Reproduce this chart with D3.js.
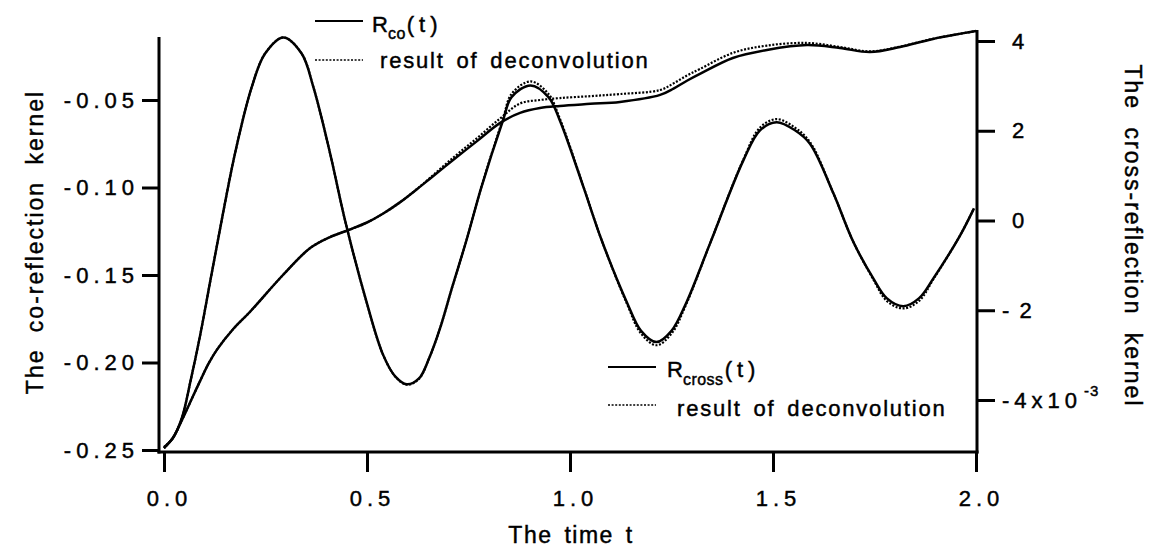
<!DOCTYPE html>
<html>
<head>
<meta charset="utf-8">
<script src="https://cdn.jsdelivr.net/npm/d3@7"></script>
<style>
  html, body { margin: 0; padding: 0; background: #fff; }
  svg { display: block; }
  text { font-family: "Liberation Sans", Arial, Helvetica, sans-serif; fill: #000; stroke: #000; stroke-width: 0.45px; }
</style>
</head>
<body>
<svg id="chart" width="1151" height="552"></svg>
<script>
// ---- data ----
const tCo = [0, 0.022, 0.044, 0.066, 0.089, 0.110, 0.131, 0.170, 0.212, 0.293, 0.360, 0.409, 0.458, 0.500, 0.539, 0.581, 0.631, 0.655, 0.712, 0.771, 0.828, 0.877, 0.926, 0.975, 1.050, 1.123, 1.222, 1.255, 1.288, 1.320, 1.401, 1.485, 1.584, 1.665, 1.739, 1.813, 1.894, 2.000];
const coExact = [-0.249, -0.243, -0.233, -0.222, -0.2105, -0.2005, -0.1925, -0.181, -0.171, -0.150, -0.1346, -0.1283, -0.1240, -0.1200, -0.1150, -0.1085, -0.0995, -0.0950, -0.0843, -0.0735, -0.0631, -0.0574, -0.0546, -0.0534, -0.0522, -0.0511, -0.0471, -0.0435, -0.0390, -0.0351, -0.0260, -0.0214, -0.0186, -0.0203, -0.0226, -0.0197, -0.0151, -0.0106];
const coDecon = [-0.249, -0.243, -0.233, -0.222, -0.2105, -0.2005, -0.1925, -0.181, -0.171, -0.150, -0.1346, -0.1283, -0.1240, -0.1200, -0.1150, -0.1085, -0.0993, -0.0945, -0.0830, -0.0718, -0.0605, -0.0520, -0.0500, -0.0489, -0.0478, -0.0466, -0.0443, -0.0405, -0.0360, -0.0323, -0.0231, -0.0189, -0.0174, -0.0197, -0.0222, -0.0195, -0.0150, -0.0106];

const tCross = [0, 0.022, 0.044, 0.066, 0.089, 0.115, 0.142, 0.175, 0.216, 0.249, 0.294, 0.339, 0.368, 0.409, 0.446, 0.499, 0.540, 0.570, 0.598, 0.628, 0.653, 0.680, 0.710, 0.745, 0.782, 0.835, 0.856, 0.903, 0.947, 0.975, 1.033, 1.078, 1.140, 1.175, 1.213, 1.250, 1.287, 1.345, 1.427, 1.468, 1.509, 1.554, 1.591, 1.649, 1.698, 1.747, 1.780, 1.821, 1.860, 1.895, 1.961, 1.995];
const crossExact = [-5.05, -4.85, -4.40, -3.55, -2.56, -1.30, 0.00, 1.50, 2.97, 3.72, 4.08, 3.72, 2.97, 1.50, 0.00, -1.82, -3.00, -3.48, -3.65, -3.52, -3.07, -2.40, -1.48, -0.44, 0.75, 2.23, 2.75, 3.01, 2.75, 2.23, 0.75, -0.44, -1.82, -2.46, -2.71, -2.46, -1.82, -0.51, 1.34, 2.01, 2.19, 2.01, 1.71, 0.60, -0.48, -1.29, -1.73, -1.91, -1.73, -1.29, -0.33, 0.27];
const crossDecon = [-5.05, -4.85, -4.40, -3.55, -2.56, -1.30, 0.00, 1.50, 2.97, 3.72, 4.08, 3.72, 2.97, 1.50, 0.00, -1.82, -3.00, -3.48, -3.66, -3.53, -3.07, -2.40, -1.48, -0.44, 0.76, 2.27, 2.82, 3.10, 2.82, 2.27, 0.76, -0.44, -1.85, -2.52, -2.78, -2.52, -1.85, -0.51, 1.36, 2.07, 2.26, 2.07, 1.75, 0.60, -0.48, -1.31, -1.79, -1.96, -1.79, -1.31, -0.33, 0.27];

const xTicks = [0, 0.5, 1.0, 1.5, 2.0];
const xTickLabels = ["0.0", "0.5", "1.0", "1.5", "2.0"];
const leftTicks = [-0.25, -0.20, -0.15, -0.10, -0.05];
const leftTickLabels = ["-0.25", "-0.20", "-0.15", "-0.10", "-0.05"];
const rightTicks = [-4, -2, 0, 2, 4];
const rightTickLabels = ["-4x10", "- 2", "0", "2", "4"];

// ---- drawing ----
const svg = d3.select("#chart");
svg.append("rect").attr("width", 1151).attr("height", 552).attr("fill", "#fff");

const x = d3.scaleLinear().domain([0, 2]).range([164, 976]);
const yL = d3.scaleLinear().domain([-0.25, -0.05]).range([450, 100]);
const yR = d3.scaleLinear().domain([-4, 4]).range([400, 41]);

const tickFont = 22;

// frame lines
const frame = svg.append("g").attr("stroke", "#000").attr("stroke-width", 3).attr("fill", "none");
frame.append("line").attr("x1", 159).attr("x2", 159).attr("y1", 37).attr("y2", 453.5);
frame.append("line").attr("x1", 157.5).attr("x2", 978.5).attr("y1", 452).attr("y2", 452);
frame.append("line").attr("x1", 977).attr("x2", 977).attr("y1", 30).attr("y2", 453.5);

// bottom axis
const gx = svg.append("g").attr("transform", "translate(0,452)")
  .call(d3.axisBottom(x).tickValues(xTicks).tickFormat((d, i) => xTickLabels[i]).tickSize(20).tickPadding(18));
gx.select(".domain").remove();
gx.selectAll(".tick line").attr("stroke-width", 3);
gx.selectAll(".tick text").attr("font-size", tickFont).attr("letter-spacing", 5).attr("dx", 5)
  .attr("font-family", "Liberation Sans, Arial, sans-serif");

// left axis
const gl = svg.append("g").attr("transform", "translate(159,0)")
  .call(d3.axisLeft(yL).tickValues(leftTicks).tickFormat((d, i) => leftTickLabels[i]).tickSize(17).tickPadding(3));
gl.select(".domain").remove();
gl.selectAll(".tick line").attr("stroke-width", 3);
gl.selectAll(".tick text").attr("font-size", tickFont).attr("letter-spacing", 5)
  .attr("font-family", "Liberation Sans, Arial, sans-serif");

// right axis
const gr = svg.append("g").attr("transform", "translate(977,0)")
  .call(d3.axisRight(yR).tickValues(rightTicks).tickFormat((d, i) => rightTickLabels[i]).tickSize(18).tickPadding(17));
gr.select(".domain").remove();
gr.selectAll(".tick line").attr("stroke-width", 3);
gr.selectAll(".tick text").attr("font-size", tickFont)
  .attr("font-family", "Liberation Sans, Arial, sans-serif")
  .attr("letter-spacing", d => d === -2 ? 2 : 5)
  .attr("x", d => d < 0 ? 25 : 35);
// exponent on the -4 tick
gr.selectAll(".tick").filter(d => d === -4).select("text")
  .append("tspan").attr("font-size", 15).attr("letter-spacing", 1).attr("dx", 2).attr("dy", "-0.75em").text("-3");

// curves
const lineCo = d3.line().x((d, i) => x(tCo[i])).y(d => yL(d)).curve(d3.curveCatmullRom.alpha(0.5));
const lineCross = d3.line().x((d, i) => x(tCross[i])).y(d => yR(d)).curve(d3.curveCatmullRom.alpha(0.5));

const curves = svg.append("g").attr("fill", "none").attr("stroke", "#000");
curves.append("path").attr("d", lineCo(coExact)).attr("stroke-width", 2.5);
curves.append("path").attr("d", lineCo(coDecon)).attr("stroke-width", 2.2).attr("stroke-dasharray", "2,1.6");
curves.append("path").attr("d", lineCross(crossExact)).attr("stroke-width", 2.5);
curves.append("path").attr("d", lineCross(crossDecon)).attr("stroke-width", 2.2).attr("stroke-dasharray", "2,1.6");

// axis titles
svg.append("text").attr("x", 571).attr("y", 543).attr("text-anchor", "middle")
  .attr("font-size", 23).attr("letter-spacing", 1.5).attr("word-spacing", 4).text("The time t");
svg.append("text").attr("transform", "translate(43,242) rotate(-90)").attr("text-anchor", "middle")
  .attr("font-size", 23).attr("letter-spacing", 2).attr("word-spacing", 8).text("The co-reflection kernel");
svg.append("text").attr("transform", "translate(1125,236) rotate(90)").attr("text-anchor", "middle")
  .attr("font-size", 23).attr("letter-spacing", 2).attr("word-spacing", 9).text("The cross-reflection kernel");

// legends
function legend(lx, ly, sub, subBase, textX, textBase, dottedY, decoX, decoBase) {
  const g = svg.append("g");
  g.append("line").attr("x1", lx).attr("x2", lx + 48).attr("y1", ly).attr("y2", ly)
    .attr("stroke", "#000").attr("stroke-width", 1.8);
  const t = g.append("text").attr("x", textX).attr("y", textBase).attr("font-size", 22);
  t.append("tspan").text("R");
  t.append("tspan").attr("font-size", 16).attr("dy", subBase).attr("letter-spacing", 0.5).text(sub);
  t.append("tspan").attr("dy", -subBase).attr("letter-spacing", 5).attr("dx", 1).text("(t)");
  g.append("line").attr("x1", lx).attr("x2", lx + 48).attr("y1", dottedY).attr("y2", dottedY)
    .attr("stroke", "#000").attr("stroke-width", 1.6).attr("stroke-dasharray", "2,1.6");
  g.append("text").attr("x", decoX).attr("y", decoBase).attr("font-size", 22)
    .attr("letter-spacing", 1.8).attr("word-spacing", 4).text("result of deconvolution");
}
legend(315, 21, "co", 7, 372, 32, 60, 380, 68);
legend(608, 367, "cross", 8, 667, 377, 405, 677, 416);
</script>
</body>
</html>
